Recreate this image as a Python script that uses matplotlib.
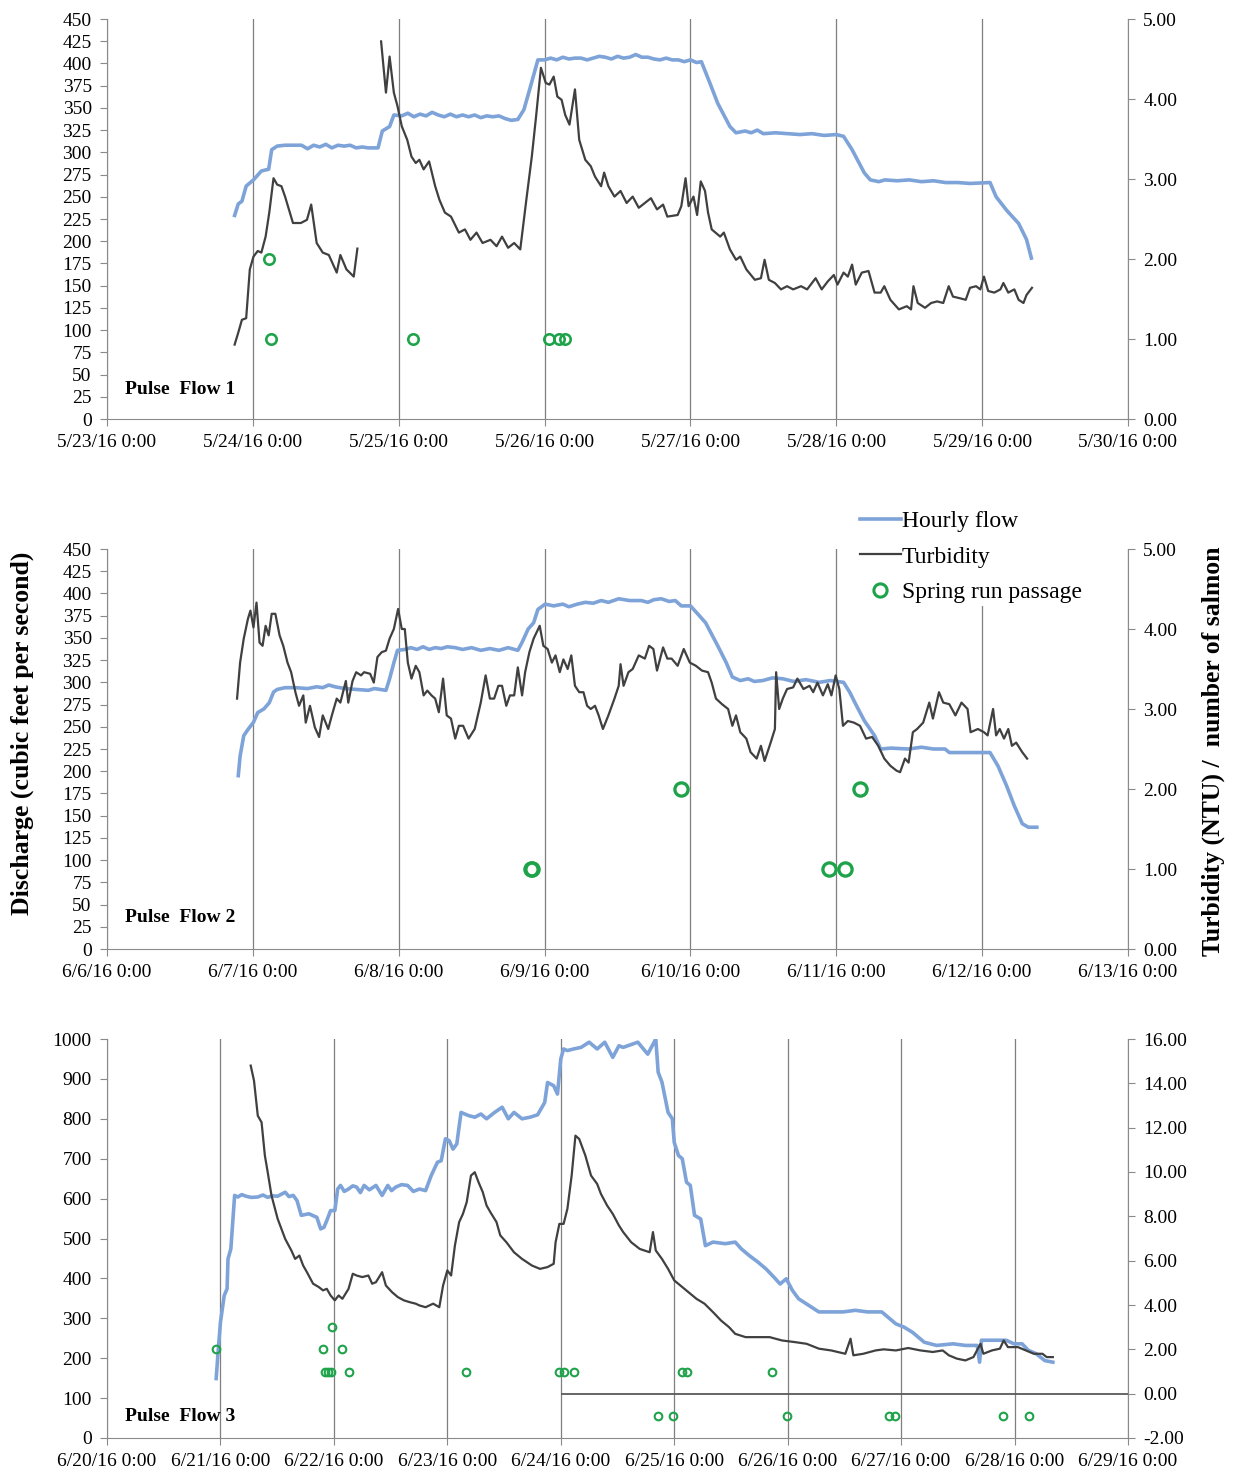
import numpy as np
import pandas as pd
import matplotlib
matplotlib.use('Agg')
import matplotlib.pyplot as plt
import matplotlib.dates as mdates
from matplotlib.ticker import FuncFormatter, MultipleLocator
from matplotlib.lines import Line2D

plt.rcParams['font.family'] = ['Liberation Serif', 'DejaVu Serif']

# ---- Pulse flow 1 (hours since 5/23/16 0:00) ----
flow1_h = [21.0, 21.6, 22.2, 22.9, 24.1, 25.4, 26.6, 27.1, 28.0, 29.3, 30.5, 32, 33, 34, 35, 36, 37, 38, 39, 40,
           41, 42, 43, 44.6, 45.3, 46.5, 47.2, 48.5, 49.5, 50.5, 51.5, 52.5, 53.5, 54.5, 55.5, 56.5, 57.5, 58.5,
           59.5, 60.5, 61.5, 62.5, 63.5, 64.5, 65.5, 66.5, 67.6, 68.6, 69.6, 70.9, 72, 73, 74, 75, 76, 77, 78,
           79, 80, 81, 82, 83, 84, 85, 86, 87, 88, 89, 90, 91, 92, 93, 94, 95, 96, 97, 97.8, 99.2, 100.5,
           102.5, 103.5, 105, 106, 107, 108, 110, 112, 114, 116, 118, 120, 121.2, 122.6, 124.6, 125.6, 127,
           128, 130, 132, 134, 136, 138, 140, 142, 145.3, 146.3, 148.0, 150.0, 151.3, 152.1]
flow1_v = [229, 242, 245, 262, 269, 279, 281, 303, 307, 308, 308, 308, 304, 308, 306, 309, 305, 308, 307, 308,
           305, 306, 305, 305, 324, 329, 342, 341, 344, 340, 343, 341, 345, 342, 340, 343, 340, 342,
           340, 342, 339, 341, 340, 341, 338, 336, 337, 348, 372, 404, 404, 406, 404, 407, 405, 406, 406,
           404, 406, 408, 407, 405, 408, 406, 407, 410, 407, 407, 405, 404, 406, 404, 404, 402, 404, 401, 402, 378, 355,
           329, 322, 324, 322, 325, 321, 322, 321, 320, 321, 319, 320, 318, 303, 277, 269, 267,
           269, 268, 269, 267, 268, 266, 266, 265, 266, 250, 235, 220, 202, 181]

turb1a_h = [21.0, 21.6, 22.2, 22.9, 23.5, 24.1, 24.8, 25.4, 26.1, 26.7, 27.4, 28.0, 28.7, 29.3, 30.6, 31.9,
            32.9, 33.6, 34.5, 35.5, 36.5, 37.8, 38.4, 39.4, 40.6, 41.2]
turb1a_v = [0.93, 1.08, 1.24, 1.26, 1.87, 2.03, 2.10, 2.08, 2.28, 2.58, 3.01, 2.93, 2.91, 2.78, 2.45, 2.45,
            2.49, 2.68, 2.20, 2.08, 2.05, 1.83, 2.05, 1.87, 1.78, 2.13]
turb1b_h = [45.1, 45.9, 46.5, 47.2, 47.8, 48.5, 49.4, 50.1, 50.8, 51.4, 52.1, 53.0, 54.0, 54.7, 55.6, 56.6,
            57.9, 58.9, 59.8, 60.8, 61.8, 63.1, 64.1, 65.0, 66.0, 67.0, 68.0, 69.0, 69.9, 70.6, 71.4, 72.2,
            72.8, 73.5, 74.1, 74.8, 75.4, 76.1, 77.0, 77.7, 78.7, 79.6, 80.3, 81.3, 81.8, 82.5, 83.5, 84.5,
            85.5, 86.5, 87.5, 88.5, 89.5, 90.5, 91.5, 92.2, 93.9, 94.5, 95.2, 95.7, 96.5, 97.1, 97.7, 98.4,
            98.9, 99.5, 100.9, 101.5, 102.5, 103.5, 104.2, 105.2, 106.6, 107.6, 108.2, 108.9, 109.9, 110.9,
            111.9, 112.9, 114.2, 115.2, 116.6, 117.6, 118.6, 119.6, 120.2, 121.2, 121.9, 122.6, 123.2, 124.2,
            125.3, 126.3, 127.3, 127.9, 128.9, 130.3, 131.6, 132.3, 132.7, 133.4, 134.6, 135.6, 136.6, 137.6,
            138.5, 139.2, 140.3, 141.3, 142.0, 143.0, 143.7, 144.3, 145.0, 146.0, 147.0, 147.5, 148.3, 149.3,
            150.0, 150.8, 151.3, 152.2]
turb1b_v = [4.72, 4.08, 4.53, 4.08, 3.91, 3.66, 3.49, 3.28, 3.20, 3.24, 3.12, 3.22, 2.91, 2.74, 2.58, 2.53,
            2.33, 2.37, 2.24, 2.33, 2.20, 2.24, 2.16, 2.28, 2.14, 2.20, 2.12, 2.74, 3.28, 3.78, 4.39, 4.20,
            4.18, 4.28, 4.03, 3.99, 3.80, 3.68, 4.12, 3.49, 3.24, 3.16, 3.03, 2.91, 3.08, 2.91, 2.78, 2.85,
            2.70, 2.78, 2.64, 2.70, 2.76, 2.62, 2.68, 2.53, 2.55, 2.66, 3.01, 2.66, 2.78, 2.55, 2.97, 2.85,
            2.58, 2.37, 2.28, 2.33, 2.12, 1.99, 2.03, 1.87, 1.74, 1.76, 1.99, 1.74, 1.70, 1.62,
            1.66, 1.62, 1.66, 1.62, 1.76, 1.62, 1.72, 1.80, 1.68, 1.83, 1.78, 1.93, 1.68, 1.83,
            1.85, 1.58, 1.58, 1.66, 1.49, 1.37, 1.41, 1.37, 1.66, 1.45, 1.39, 1.45, 1.47, 1.45,
            1.66, 1.53, 1.51, 1.49, 1.64, 1.66, 1.62, 1.78, 1.60, 1.58, 1.62, 1.70, 1.58, 1.62,
            1.49, 1.45, 1.55, 1.64]

fish1_h = [26.6, 27.0, 50.4, 72.8, 74.3, 75.4]
fish1_v = [2, 1, 1, 1, 1, 1]

# ---- Pulse flow 2 (hours since 6/6/16 0:00) ----
flow2_h = [21.6, 21.9, 22.5, 23.2, 24.1, 24.8, 25.8, 26.7, 27.4, 28.0, 29.3, 31, 33, 34.5, 35.5, 36.5, 37.5,
           39.1, 41, 43, 44, 45.9, 46.5, 47.2, 47.8, 49, 50, 51, 52, 53, 54, 55, 56, 57.3, 58.5, 60, 61.5,
           63, 64.5, 66, 67.6, 68.3, 69.3, 70.2, 70.9, 72.1, 73.5, 75, 76, 77.4, 78.7, 80, 81.3, 82.5, 84.2,
           86, 87.9, 89, 90, 91.2, 92.5, 93.5, 94.5, 96.0, 97.2, 98.5, 100.5, 101.9, 102.9, 104.2, 105.5,
           106.5, 107.9, 109.5, 111.2, 113, 115, 117.2, 119, 121.2, 122.2, 123.3, 124.6, 126.3, 127.3, 129,
           131.9, 134, 136, 137.9, 138.6, 141.3, 145.3, 146.6, 148.0, 149.3, 150.6, 151.6, 153.0]
flow2_v = [195, 217, 240, 247, 255, 266, 270, 277, 289, 292, 294, 294, 293, 295, 294, 297, 295,
           293, 292, 291, 293, 291, 304, 322, 336, 337, 339, 337, 340, 337, 339, 338, 340, 339, 337, 339, 336,
           338, 336, 339, 336, 345, 360, 367, 382, 388, 386, 388, 385, 388, 390, 389, 392, 390, 394,
           392, 392, 390, 393, 394, 391, 392, 386, 386, 377, 367, 341, 322, 306, 302, 304,
           301, 302, 305, 304, 301, 303, 300, 302, 300, 289, 274, 257, 240, 225, 226,
           225, 227, 225, 225, 221, 221, 221, 206, 184, 161, 141, 137, 137]

turb2_h = [21.4, 21.9, 22.5, 23.2, 23.6, 24.1, 24.6, 25.1, 25.6, 26.1, 26.6, 27.1, 27.7, 28.4, 29.0, 29.7,
           30.3, 31.0, 31.6, 32.3, 32.7, 33.4, 34.2, 34.9, 35.5, 36.4, 37.0, 37.8, 38.4, 39.3, 39.7, 40.4,
           41.0, 41.8, 42.3, 43.3, 43.9, 44.5, 45.2, 45.9, 46.5, 47.2, 47.9, 48.5, 49.0, 49.5, 50.1, 50.8,
           51.4, 52.1, 52.7, 53.4, 54.0, 54.6, 55.3, 55.9, 56.6, 57.3, 57.9, 58.6, 59.5, 60.5, 61.5, 62.3,
           63.0, 63.7, 64.4, 65.0, 65.7, 66.3, 67.0, 67.6, 68.3, 68.8, 69.5, 70.2, 71.2, 71.8, 72.5, 73.2,
           73.8, 74.5, 75.1, 75.8, 76.4, 77.0, 77.7, 78.4, 79.0, 79.6, 80.3, 80.9, 81.6, 82.5, 83.5, 84.2,
           84.5, 85.0, 85.8, 86.5, 87.5, 88.5, 89.2, 89.9, 90.5, 91.5, 92.2, 92.9, 93.9, 94.9, 95.9, 96.9,
           97.9, 98.9, 99.5, 100.2, 101.2, 102.2, 102.9, 103.5, 104.2, 105.2, 105.9, 106.9, 107.6, 108.2,
           109.2, 109.9, 110.1, 110.6, 111.2, 111.9, 112.9, 113.6, 114.6, 115.6, 116.2, 116.9, 117.8, 118.6,
           119.2, 119.9, 120.5, 121.1, 121.9, 122.9, 123.9, 124.9, 125.9, 126.9, 127.9, 128.9, 129.9, 130.5,
           131.3, 131.9, 132.6, 133.3, 134.3, 135.3, 135.9, 136.9, 137.6, 138.6, 139.6, 140.6, 141.6, 142.1,
           143.3, 144.3, 144.9, 145.8, 146.3, 146.9, 147.6, 148.3, 148.9, 149.6, 150.6, 151.4]
turb2_v = [3.13, 3.58, 3.88, 4.13, 4.23, 4.02, 4.33, 3.83, 3.79, 4.04, 3.92, 4.19, 4.19, 3.92, 3.79, 3.58,
           3.46, 3.21, 3.04, 3.17, 2.83, 3.04, 2.77, 2.65, 2.92, 2.75, 2.92, 3.13, 3.08, 3.35, 3.08, 3.35,
           3.46, 3.42, 3.46, 3.44, 3.33, 3.65, 3.71, 3.73, 3.88, 4.00, 4.25, 4.00, 4.00, 3.58, 3.38, 3.54,
           3.46, 3.17, 3.23, 3.17, 3.13, 2.96, 3.38, 2.92, 2.88, 2.63, 2.79, 2.79, 2.63, 2.75, 3.08, 3.42,
           3.13, 3.13, 3.29, 3.29, 3.04, 3.17, 3.17, 3.52, 3.17, 3.46, 3.71, 3.88, 4.04, 3.79, 3.75, 3.58,
           3.67, 3.46, 3.62, 3.50, 3.67, 3.29, 3.21, 3.21, 3.04, 3.00, 3.04, 2.92, 2.75, 2.92, 3.13, 3.29,
           3.56, 3.29, 3.46, 3.50, 3.67, 3.63, 3.79, 3.75, 3.48, 3.77, 3.63, 3.63, 3.54, 3.75, 3.58, 3.54,
           3.48, 3.46, 3.33, 3.13, 3.06, 3.00, 2.79, 2.92, 2.71, 2.63, 2.46, 2.38, 2.54, 2.35,
           2.58, 2.75, 3.46, 3.00, 3.13, 3.25, 3.27, 3.38, 3.25, 3.29, 3.21, 3.33, 3.17, 3.31,
           3.17, 3.42, 3.25, 2.79, 2.85, 2.83, 2.79, 2.63, 2.65, 2.54, 2.38, 2.29, 2.23, 2.21,
           2.38, 2.33, 2.71, 2.75, 2.83, 3.08, 2.88, 3.21, 3.08, 3.06, 2.92, 3.08, 3.00, 2.71,
           2.75, 2.71, 2.67, 3.00, 2.67, 2.75, 2.63, 2.75, 2.54, 2.58, 2.46, 2.38]

fish2_h = [69.7, 70.0, 94.4, 118.8, 121.5, 123.9]
fish2_v = [1, 1, 2, 1, 1, 2]

# ---- Pulse flow 3 (hours since 6/20/16 0:00) ----
flow3_h = [23.1, 23.5, 24.0, 24.8, 25.4, 25.6, 26.2, 26.7, 27.0, 27.7, 28.5, 29.4, 30.5, 31.9, 33, 34, 35, 36.1,
           37.7, 38.5, 39.4, 40.2, 41.1, 42.7, 44.4, 45.2, 45.9, 46.5, 47.3, 48.2, 48.8, 49.4, 50.2, 51.1, 52.0,
           52.8, 53.6, 54.4, 55.5, 56.9, 58.2, 59.4, 60.2, 61.1, 62.3, 63.6, 64.8, 66.1, 67.4, 68.6, 69.9, 70.7,
           71.6, 72.4, 73.2, 74.0, 74.9, 76.5, 77.8, 79.1, 80.3, 82.0, 83.6, 84.9, 86.1, 87.8, 89.5, 91.1,
           92.6, 93.2, 94.5, 95.3, 96.0, 96.6, 97.4, 98.7, 100.3, 102.0, 103.7, 105.3, 107.0, 108.3, 109.2,
           112.3, 114.4, 116.1, 116.6, 117.4, 118.7, 119.6, 120.0, 120.9, 121.7, 122.6, 123.4, 124.3, 125.6,
           126.6, 128.2, 130.8, 132.9, 134.2, 135.9, 137.7, 139.4, 141.1, 142.4, 143.7, 145.0, 146.3, 148.0,
           150.6, 153.2, 155.7, 158.3, 160.9, 163.9, 165.2, 166.9, 168.6, 170.4, 172.9, 175.5, 179.0, 181.6,
           184.1, 184.6, 185.0, 188.0, 190.2, 191.9, 193.6, 194.9, 196.6, 198.4, 200.1]
flow3_v = [149, 215, 290, 357, 374, 449, 474, 558, 608, 604, 610, 606, 603, 604, 609, 603, 607, 606,
           616, 605, 608, 595, 558, 562, 553, 524, 528, 545, 570, 570, 624, 633, 618, 624, 632,
           629, 615, 633, 622, 633, 608, 633, 620, 629, 635, 633, 618, 624, 620, 658, 691, 695,
           750, 745, 724, 737, 816, 808, 804, 812, 800, 816, 829, 800, 816, 800, 804, 810,
           841, 891, 883, 862, 950, 975, 971, 975, 979, 992, 975, 992, 954, 983, 979,
           992, 962, 1000, 917, 892, 816, 800, 741, 708, 700, 641, 633, 558, 549,
           482, 491, 487, 491, 474, 457, 441, 424, 403, 386, 399, 370, 349, 336,
           316, 316, 316, 320, 316, 316, 303, 286, 278, 265, 240, 232, 236, 232,
           232, 190, 245, 245, 245, 236, 236, 220, 211, 194, 190]

turb3_h = [30.4, 31.1, 31.9, 32.7, 33.4, 34.0, 34.8, 36.1, 37.7, 39.0, 39.8, 40.7, 41.5, 42.3, 43.6, 44.8,
           45.7, 46.5, 47.3, 48.2, 49.0, 49.8, 51.1, 52.0, 52.8, 54.0, 55.3, 56.1, 56.9, 58.2, 59.0, 60.3,
           61.5, 62.8, 64.0, 65.3, 66.1, 67.4, 69.0, 70.3, 71.1, 72.0, 72.8, 73.6, 74.5, 75.3, 76.1, 77.0,
           77.8, 78.6, 79.5, 80.3, 81.1, 82.4, 83.2, 84.5, 86.1, 87.8, 89.9, 91.6, 93.2, 94.5, 94.9, 95.7,
           96.6, 97.4, 98.3, 99.1, 99.9, 101.2, 102.4, 103.7, 104.5, 105.8, 107.0, 108.3, 109.2, 110.9,
           112.7, 114.8, 115.5, 116.1, 117.4, 118.7, 120.0, 121.3, 123.0, 124.7, 126.4, 128.2, 129.9, 131.6,
           132.9, 135.1, 137.7, 140.2, 142.8, 145.4, 148.0, 150.6, 153.2, 156.2, 157.3, 157.9, 160.0, 162.6,
           164.3, 166.9, 169.5, 172.1, 174.7, 176.8, 178.1, 179.8, 181.6, 183.3, 184.8, 185.4, 187.2, 188.9,
           189.7, 190.6, 192.7, 194.4, 196.1, 197.9, 198.8, 200.1]
turb3_v = [14.80, 14.12, 12.54, 12.24, 10.74, 9.99, 8.94, 7.89, 6.98, 6.46, 6.08, 6.23, 5.78, 5.48, 4.96, 4.81,
           4.66, 4.73, 4.43, 4.21, 4.43, 4.28, 4.73, 5.41, 5.33, 5.26, 5.33, 4.96, 5.03, 5.48, 4.88, 4.58,
           4.36, 4.21, 4.13, 4.06, 3.98, 3.90, 4.06, 3.90, 4.88, 5.56, 5.33, 6.68, 7.74, 8.11, 8.64, 9.84,
           9.99, 9.54, 9.09, 8.49, 8.19, 7.74, 7.14, 6.83, 6.38, 6.08, 5.78, 5.63, 5.71, 5.86, 6.83, 7.66,
           7.66, 8.34, 9.84, 11.64, 11.49, 10.74, 9.84, 9.46, 9.01, 8.49, 8.11, 7.59, 7.29, 6.83,
           6.53, 6.38, 7.29, 6.46, 6.08, 5.63, 5.11, 4.88, 4.58, 4.28, 4.06, 3.68, 3.30, 3.00,
           2.70, 2.55, 2.55, 2.55, 2.40, 2.33, 2.25, 2.03, 1.95, 1.80, 2.48, 1.73, 1.80, 1.95,
           2.00, 1.95, 2.06, 1.95, 1.88, 1.95, 1.73, 1.58, 1.50, 1.65, 2.25, 1.80, 1.95, 2.03,
           2.40, 2.10, 2.10, 1.95, 1.80, 1.80, 1.65, 1.65]

fish3_h = [23.1, 45.7, 47.7, 49.8, 46.1, 46.7, 47.3, 51.3, 76.0, 95.7, 96.6, 98.7, 121.7, 122.6, 140.7,
           116.6, 119.7, 143.9, 165.4, 166.8, 189.6, 195.1]
fish3_v = [2, 2, 3, 2, 1, 1, 1, 1, 1, 1, 1, 1, 1, 1, 1,
           -1, -1, -1, -1, -1, -1, -1]

BLUE = '#7DA3D8'
DARK = '#404040'
GREEN = '#1FA34A'
AXC = '#8A8A8A'

fig = plt.figure(figsize=(12.38, 14.71), dpi=100)


def date_fmt(x, pos):
    d = mdates.num2date(x)
    return f'{d.month}/{d.day}/16 0:00'


def panel(rect, start, ndays, fl_h, fl_v, turb, f_h, f_v, ymax, ystep, y2, y2step, label, laby, ms):
    t0 = pd.Timestamp(start)
    tx = lambda h: t0 + pd.to_timedelta(np.asarray(h, dtype=float), unit='h')
    ax = fig.add_axes(rect)
    ax2 = ax.twinx()
    ax.set_xlim(t0, t0 + pd.Timedelta(days=ndays))
    ax.set_ylim(0, ymax)
    ax2.set_ylim(*y2)
    ax.yaxis.set_major_locator(MultipleLocator(ystep))
    ax2.yaxis.set_major_locator(MultipleLocator(y2step))
    ax2.yaxis.set_major_formatter(FuncFormatter(lambda v, p: f'{v:.2f}'))
    ax.xaxis.set_major_locator(mdates.DayLocator())
    ax.xaxis.set_major_formatter(FuncFormatter(date_fmt))
    ax.grid(axis='x', color='#7f7f7f', lw=0.9)
    ax.set_axisbelow(True)
    for a in (ax, ax2):
        a.spines['top'].set_visible(False)
        for s in ('left', 'right', 'bottom'):
            a.spines[s].set_color(AXC)
        a.tick_params(colors=AXC, labelcolor='black', labelsize=14, length=5, pad=6)
    ax.spines['right'].set_visible(False)
    ax2.spines['left'].set_visible(False)
    ax2.spines['bottom'].set_visible(False)

    ax.plot(tx(fl_h), fl_v, color=BLUE, lw=2.6)
    for th, tv in turb:
        ax2.plot(tx(th), tv, color=DARK, lw=1.6)
    ax2.plot(tx(f_h), f_v, 'o', ls='none', ms=ms, mfc='none', mec=GREEN, mew=max(1.5, ms / 4))
    ax.text(0.018, laby, label, transform=ax.transAxes, fontsize=14, fontweight='bold', va='center')
    return ax, ax2, tx


W = 1238.0
H = 1471.0
L = 107 / W
Wd = (1128 - 107) / W

panel([L, 1 - 419 / H, Wd, 400 / H], '2016-05-23', 7, flow1_h, flow1_v,
      [(turb1a_h, turb1a_v), (turb1b_h, turb1b_v)], fish1_h, fish1_v,
      450, 25, (0, 5), 1, 'Pulse  Flow 1', 0.073, 7.5)

ax_b, ax_b2, _ = panel([L, 1 - 949 / H, Wd, 400 / H], '2016-06-06', 7, flow2_h, flow2_v,
                       [(turb2_h, turb2_v)], fish2_h, fish2_v,
                       450, 25, (0, 5), 1, 'Pulse  Flow 2', 0.08, 9.5)

ax_c, ax_c2, tx3 = panel([L, 1 - 1438 / H, Wd, 399 / H], '2016-06-20', 9, flow3_h, flow3_v,
                         [(turb3_h, turb3_v)], fish3_h, fish3_v,
                         1000, 100, (-2, 16), 2, 'Pulse  Flow 3', 0.055, 5.5)
ax_c2.hlines(0, tx3(96), tx3(216), color='#595959', lw=1.3)

handles = [Line2D([], [], color=BLUE, lw=2.6),
           Line2D([], [], color=DARK, lw=1.6),
           Line2D([], [], marker='o', ls='none', ms=9.5, mfc='none', mec=GREEN, mew=2.2)]
fig.legend(handles, ['Hourly flow', 'Turbidity', 'Spring run passage'], loc='upper left',
           bbox_to_anchor=(858 / W, 1 - 508 / H), fontsize=17, frameon=True, facecolor='white',
           edgecolor='none', framealpha=1, handlelength=1.7, handletextpad=0.05,
           labelspacing=0.6, borderpad=0.1, borderaxespad=0)

fig.text(22 / W, 1 - 733 / H, 'Discharge (cubic feet per second)', rotation=90, fontsize=18.5,
         fontweight='bold', ha='center', va='center')
fig.text(1213 / W, 1 - 751 / H, 'Turbidity (NTU) /  number of salmon', rotation=90, fontsize=18.5,
         fontweight='bold', ha='center', va='center')

fig.savefig('out.png', dpi=100)
